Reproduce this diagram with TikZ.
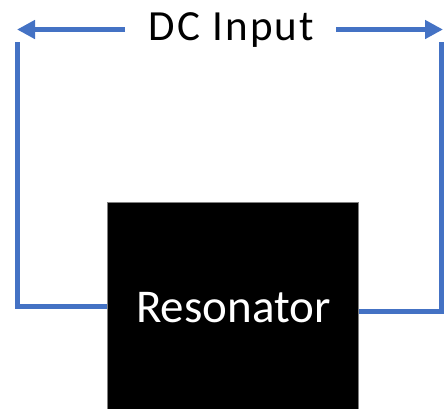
\documentclass[tikz,border=0pt]{standalone}
\usepackage{fontspec}
\setmainfont{Carlito}
\usetikzlibrary{arrows.meta}
\definecolor{wireblue}{HTML}{4472C4}
\tikzset{
  wire/.style={draw=wireblue, line width=5pt, line join=miter},
  arr/.style={wire, -{Triangle[length=18pt,width=18pt]}},
  boxstyle/.style={fill=black, draw=gray, line width=0.8pt, minimum width=251pt, minimum height=210pt, inner sep=0pt}
}
\begin{document}
\begin{tikzpicture}[x=1pt,y=-1pt]
\useasboundingbox (0,0) rectangle (444,408);
\node[boxstyle, anchor=north west] (box) at (107,202) {};
\node[anchor=base, font=\fontsize{47}{50}\selectfont, text=white, inner sep=0pt] (res) at (233.5,322) {Resonator};
\node[anchor=base, font=\fontsize{43}{50}\selectfont\addfontfeature{LetterSpace=5}, inner sep=0pt] (dc) at (231.5,40) {DC Input};
\coordinate (la) at (17,29.5);
\coordinate (ra) at (443,29.5);
\coordinate (ltop) at (17,42);
\coordinate (lbot) at (17,306);
\coordinate (rtop) at (441.5,42);
\coordinate (rbot) at (441.5,311);
\coordinate (ls) at (125,29.5);
\coordinate (rs) at (336,29.5);
\draw[arr] (ls) -- (la);
\draw[arr] (rs) -- (ra);
\draw[wire] (ltop) -- (lbot) -- (box.west |- lbot);
\draw[wire] (box.east |- rbot) -- (rbot) -- (rtop);
\end{tikzpicture}
\end{document}
